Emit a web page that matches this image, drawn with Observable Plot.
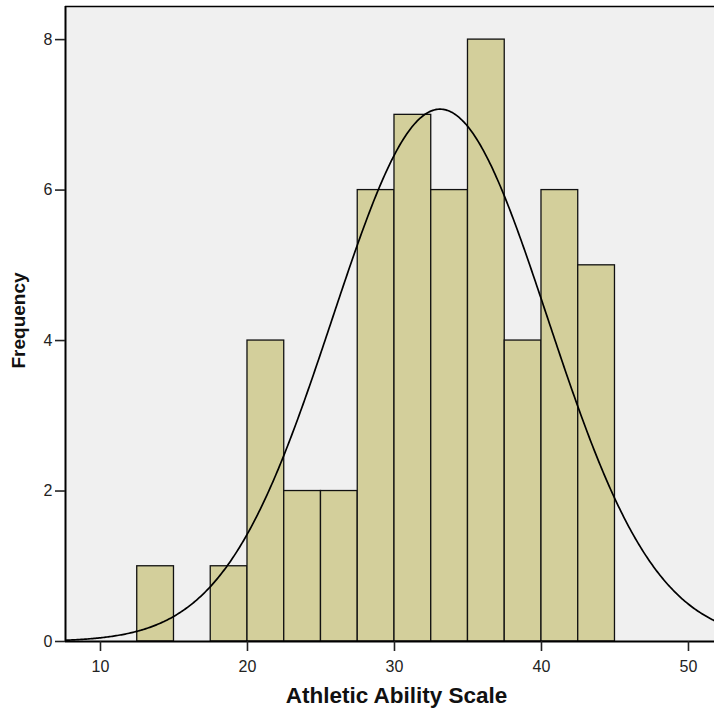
<!DOCTYPE html>
<html>
<head>
<meta charset="utf-8">
<script src="https://cdn.jsdelivr.net/npm/d3@7"></script>
<script src="https://cdn.jsdelivr.net/npm/@observablehq/plot@0.6"></script>
<style>
  html, body { margin: 0; padding: 0; background: #ffffff; }
  #chart svg { display: block; }
</style>
</head>
<body>
<div id="chart"></div>
<script>
// Histogram bins (lower edges) and frequencies
const binStarts = [12.5, 15, 17.5, 20, 22.5, 25, 27.5, 30, 32.5, 35, 37.5, 40, 42.5];
const counts    = [1,    0,  1,    4,  2,    2,  6,    7,  6,    8,  4,    6,  5];
const binWidth = 2.5;

// Normal curve parameters (fitted to the data)
const curveMean = 33.1;
const curveSD = 7.33;
const nObs = 52;

const xTicks = [10, 20, 30, 40, 50];
const yTicks = [0, 2, 4, 6, 8];
const xTitle = "Athletic Ability Scale";
const yTitle = "Frequency";

const xDomain = [7.62, 51.77];
const yDomain = [0, 8.44];

const bins = binStarts.map((s, i) => ({x1: s, x2: s + binWidth, count: counts[i]})).filter(d => d.count > 0);

const curve = [];
for (let i = 0; i <= 500; i++) {
  const x = xDomain[0] + (xDomain[1] - xDomain[0]) * i / 500;
  const z = (x - curveMean) / curveSD;
  const y = nObs * binWidth / (curveSD * Math.sqrt(2 * Math.PI)) * Math.exp(-0.5 * z * z);
  curve.push({x, y});
}

const chart = Plot.plot({
  width: 714,
  height: 712,
  marginLeft: 65,
  marginRight: 0,
  marginTop: 6,
  marginBottom: 71,
  style: {fontFamily: "Liberation Sans, Arial, sans-serif", fontSize: "16px", background: "#ffffff"},
  x: {domain: xDomain},
  y: {domain: yDomain},
  marks: [
    Plot.frame({fill: "#f0f0f0", stroke: null}),
    Plot.rectY(bins, {x1: "x1", x2: "x2", y: "count", fill: "#d3cf9b", stroke: "#111", strokeWidth: 1.3}),
    Plot.line(curve, {x: "x", y: "y", stroke: "#000", strokeWidth: 1.7, clip: true}),
    Plot.ruleX([xDomain[0]], {stroke: "#000", strokeWidth: 2}),
    Plot.ruleY([yDomain[1]], {stroke: "#000", strokeWidth: 1.5}),
    Plot.ruleY([0], {stroke: "#000", strokeWidth: 2}),
    Plot.axisY({ticks: yTicks, tickSize: 10, tickPadding: 3, label: null, strokeWidth: 1.6, color: "#222"}),
    Plot.axisX({ticks: xTicks, tickSize: 10, tickPadding: 9, label: null, strokeWidth: 1.6, color: "#222"}),
    Plot.text([xTitle], {frameAnchor: "bottom", dx: 6.5, dy: 54, fontSize: 22.5, fontWeight: "bold", fill: "#111", lineAnchor: "middle", textAnchor: "middle"}),
    Plot.text([yTitle], {frameAnchor: "left", dx: -47, dy: -3.5, rotate: -90, fontSize: 19, fontWeight: "bold", fill: "#111", lineAnchor: "middle", textAnchor: "middle"})
  ]
});
document.getElementById("chart").appendChild(chart);
</script>
</body>
</html>
